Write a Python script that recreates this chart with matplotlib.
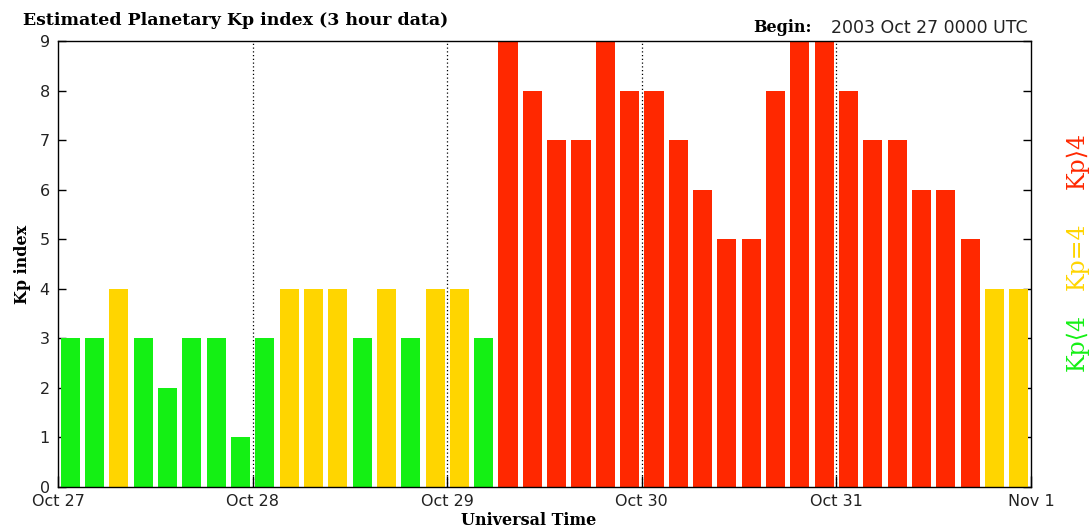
import matplotlib
matplotlib.use('Agg')
import matplotlib.pyplot as plt
import numpy as np

# Kp 值，每 3 小时一个，2003-10-27 00 UTC 开始
kp = [3, 3, 4, 3, 2, 3, 3, 1,
      3, 4, 4, 4, 3, 4, 3, 4,
      4, 3, 9, 8, 7, 7, 9, 8,
      8, 7, 6, 5, 5, 8, 9, 9,
      8, 7, 7, 6, 6, 5, 4, 4]
day_labels = ['Oct 27', 'Oct 28', 'Oct 29', 'Oct 30', 'Oct 31', 'Nov 1']
y_ticks = [0, 1, 2, 3, 4, 5, 6, 7, 8, 9]

GREEN = '#14f014'
YELLOW = '#ffd500'
RED = '#ff2800'


def bar_color(v):
    if v < 4:
        return GREEN
    if v == 4:
        return YELLOW
    return RED


fig = plt.figure(figsize=(10.9, 5.31), dpi=100)
ax = fig.add_axes([0.0532, 0.0829, 0.8927, 0.8399])

hours = np.arange(len(kp)) * 3 + 1.5
ax.bar(hours, kp, width=2.35, color=[bar_color(v) for v in kp], zorder=2)

# 日分隔虚线
for d in range(1, 5):
    ax.axvline(d * 24, color='black', linestyle=(0, (1, 2)), linewidth=0.9, zorder=1)

ax.set_xlim(0, 120)
ax.set_ylim(0, 9)

ax.set_xticks(np.arange(0, 121, 24))
ax.set_xticklabels(day_labels, fontfamily='DejaVu Sans', fontsize=11.5, color='#222222')
ax.set_xticks(hours, minor=True)
ax.tick_params(axis='x', which='major', direction='in', length=8, width=1, top=False, pad=5)
ax.tick_params(axis='x', which='minor', direction='in', length=8, width=1, color='white', top=False)

ax.set_yticks(y_ticks)
ax.set_yticklabels([str(v) for v in y_ticks], fontfamily='DejaVu Sans', fontsize=11.5, color='#222222')
ax.tick_params(axis='y', direction='in', length=6, width=1, right=True, pad=6)

for s in ax.spines.values():
    s.set_linewidth(1)
    s.set_zorder(3)

ax.set_ylabel('Kp index', fontfamily='DejaVu Serif', fontweight='bold', fontsize=11.5, labelpad=6)
fig.text(0.485, 0.004, 'Universal Time', ha='center', va='bottom',
         fontfamily='DejaVu Serif', fontweight='bold', fontsize=11.5)

fig.text(0.021, 0.962, 'Estimated Planetary Kp index (3 hour data)', ha='left', va='center',
         fontfamily='DejaVu Serif', fontweight='bold', fontsize=12.5)
fig.text(0.745, 0.948, 'Begin:', ha='right', va='center',
         fontfamily='DejaVu Serif', fontweight='bold', fontsize=11.5)
fig.text(0.762, 0.948, '2003 Oct 27 0000 UTC', ha='left', va='center',
         fontfamily='DejaVu Sans', fontsize=12.5, color='#222222')

# 右侧图例文字
legend_font = dict(rotation=90, ha='center', va='center',
                   family=['DejaVu Serif', 'DejaVu Sans'], fontsize=17)
fig.text(0.988, 0.697, 'Kp\u27e94', color=RED, **legend_font)
fig.text(0.988, 0.518, 'Kp=4', color=YELLOW, **legend_font)
fig.text(0.988, 0.356, 'Kp\u27e84', color=GREEN, **legend_font)

fig.savefig('out.png', dpi=100)
